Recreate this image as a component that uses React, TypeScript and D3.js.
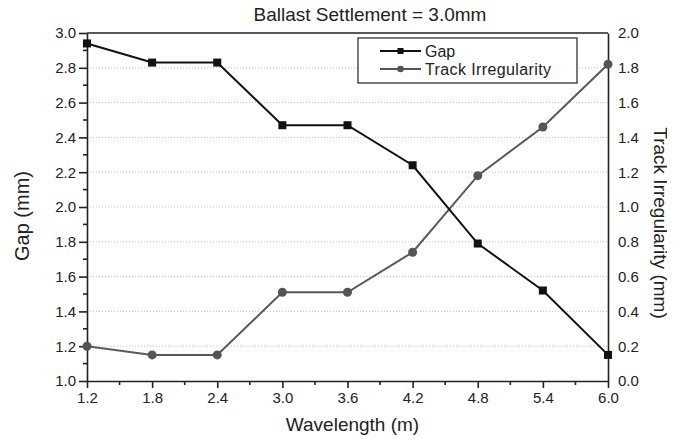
import React, { useEffect, useRef } from 'react';
import * as d3 from 'd3';

const wavelengths = [1.2, 1.8, 2.4, 3.0, 3.6, 4.2, 4.8, 5.4, 6.0];
const gapValues = [2.94, 2.83, 2.83, 2.47, 2.47, 2.24, 1.79, 1.52, 1.15];
const trackValues = [0.2, 0.15, 0.15, 0.51, 0.51, 0.74, 1.18, 1.46, 1.82];
const xTicks = [1.2, 1.8, 2.4, 3.0, 3.6, 4.2, 4.8, 5.4, 6.0];
const leftTicks = [1.0, 1.2, 1.4, 1.6, 1.8, 2.0, 2.2, 2.4, 2.6, 2.8, 3.0];
const rightTicks = [0.0, 0.2, 0.4, 0.6, 0.8, 1.0, 1.2, 1.4, 1.6, 1.8, 2.0];

export default function App() {
    const ref = useRef<SVGSVGElement>(null);

    useEffect(() => {
        const width = 675;
        const height = 439;
        const m = { top: 33, right: 67, bottom: 58, left: 87 };
        const w = width - m.left - m.right;
        const h = height - m.top - m.bottom;
        const font = "'Liberation Sans', Arial, sans-serif";

        const svg = d3.select(ref.current);
        svg.selectAll("*").remove();
        svg.attr("width", width).attr("height", height)
            .style("font-family", font);

        const g = svg.append("g").attr("transform", `translate(${m.left},${m.top})`);

        const x = d3.scaleLinear().domain([1.2, 6.0]).range([0, w]);
        const yL = d3.scaleLinear().domain([1.0, 3.0]).range([h, 0]);
        const yR = d3.scaleLinear().domain([0, 2.0]).range([h, 0]);

        // dotted grid
        g.selectAll(".grid")
            .data(leftTicks.slice(1, -1))
            .enter()
            .append("line")
            .attr("x1", 0).attr("x2", w)
            .attr("y1", d => yL(d)).attr("y2", d => yL(d))
            .attr("stroke", "#c4c4c4")
            .attr("stroke-dasharray", "1,2")
            .attr("stroke-width", 1);

        const axisStyle = (sel: any) => {
            sel.selectAll("path").attr("stroke", "#222").attr("stroke-width", 1.6);
            sel.selectAll("line").attr("stroke", "#222").attr("stroke-width", 1.6);
            sel.selectAll("text").attr("font-size", 15).attr("fill", "#222").attr("font-family", font);
        };

        // minor ticks
        const minorX = d3.range(1.5, 6.0, 0.6);
        g.selectAll(".mx").data(minorX).enter().append("line")
            .attr("x1", d => x(d)).attr("x2", d => x(d))
            .attr("y1", h).attr("y2", h + 4)
            .attr("stroke", "#222").attr("stroke-width", 1.6);
        const minorY = d3.range(1.1, 3.0, 0.2);
        g.selectAll(".myl").data(minorY).enter().append("line")
            .attr("x1", -4).attr("x2", 0)
            .attr("y1", d => yL(d)).attr("y2", d => yL(d))
            .attr("stroke", "#222").attr("stroke-width", 1.6);

        g.append("g").attr("transform", `translate(0,${h})`)
            .call(d3.axisBottom(x).tickValues(xTicks).tickFormat(d3.format(".1f")).tickSizeInner(7).tickSizeOuter(0).tickPadding(4))
            .call(axisStyle);
        g.append("g")
            .call(d3.axisLeft(yL).tickValues(leftTicks).tickFormat(d3.format(".1f")).tickSizeInner(8).tickSizeOuter(0).tickPadding(3))
            .call(axisStyle);
        g.append("g").attr("transform", `translate(${w},0)`)
            .call(d3.axisRight(yR).tickValues(rightTicks).tickFormat(d3.format(".1f")).tickSizeInner(0).tickSizeOuter(0).tickPadding(10))
            .call(axisStyle);
        g.append("line").attr("x1", 0).attr("x2", w).attr("y1", 0).attr("y2", 0)
            .attr("stroke", "#222").attr("stroke-width", 1.6);

        const gapData = wavelengths.map((d, i) => [d, gapValues[i]]);
        const trackData = wavelengths.map((d, i) => [d, trackValues[i]]);

        g.append("path")
            .datum(trackData)
            .attr("fill", "none")
            .attr("stroke", "#595959")
            .attr("stroke-width", 2)
            .attr("d", d3.line<number[]>().x(d => x(d[0])).y(d => yR(d[1])));
        g.selectAll(".tp").data(trackData).enter().append("circle")
            .attr("cx", d => x(d[0])).attr("cy", d => yR(d[1])).attr("r", 4.5)
            .attr("fill", "#555");

        g.append("path")
            .datum(gapData)
            .attr("fill", "none")
            .attr("stroke", "#111")
            .attr("stroke-width", 2)
            .attr("d", d3.line<number[]>().x(d => x(d[0])).y(d => yL(d[1])));
        g.selectAll(".gp").data(gapData).enter().append("rect")
            .attr("x", d => x(d[0]) - 4).attr("y", d => yL(d[1]) - 4)
            .attr("width", 8).attr("height", 8)
            .attr("fill", "#111");

        // legend
        const lg = svg.append("g").attr("transform", "translate(358,38)");
        lg.append("rect").attr("width", 219).attr("height", 45)
            .attr("fill", "white").attr("stroke", "#333").attr("stroke-width", 1.3);
        const items = [
            { label: "Gap", color: "#111", shape: "square" },
            { label: "Track Irregularity", color: "#555", shape: "circle" },
        ];
        items.forEach((it, i) => {
            const cy = 13 + i * 18;
            lg.append("line").attr("x1", 22).attr("x2", 63).attr("y1", cy).attr("y2", cy)
                .attr("stroke", it.color).attr("stroke-width", 2);
            if (it.shape === "square") {
                lg.append("rect").attr("x", 39.5).attr("y", cy - 3).attr("width", 6).attr("height", 6).attr("fill", it.color);
            } else {
                lg.append("circle").attr("cx", 42.5).attr("cy", cy).attr("r", 3.3).attr("fill", it.color);
            }
            lg.append("text").attr("x", 67).attr("y", cy + 5.5).attr("font-size", 16)
                .attr("textLength", i === 1 ? 126 : null)
                .attr("fill", "#222").text(it.label);
        });

        svg.append("text").attr("x", 370).attr("y", 21).attr("text-anchor", "middle")
            .attr("font-size", 19).attr("fill", "#222").text("Ballast Settlement = 3.0mm");
        svg.append("text").attr("x", m.left + w / 2 + 5).attr("y", 431).attr("text-anchor", "middle")
            .attr("font-size", 19).attr("fill", "#222").text("Wavelength (m)");
        svg.append("text").attr("transform", `translate(29,${216}) rotate(-90)`)
            .attr("text-anchor", "middle").attr("font-size", 20).attr("fill", "#222").text("Gap (mm)");
        svg.append("text").attr("transform", `translate(654,${223}) rotate(90)`)
            .attr("text-anchor", "middle").attr("font-size", 19).attr("fill", "#222").text("Track Irregularity (mm)");
    }, []);

    return (
        <div style={{ margin: -8 }}>
            <svg ref={ref}></svg>
        </div>
    );
}
